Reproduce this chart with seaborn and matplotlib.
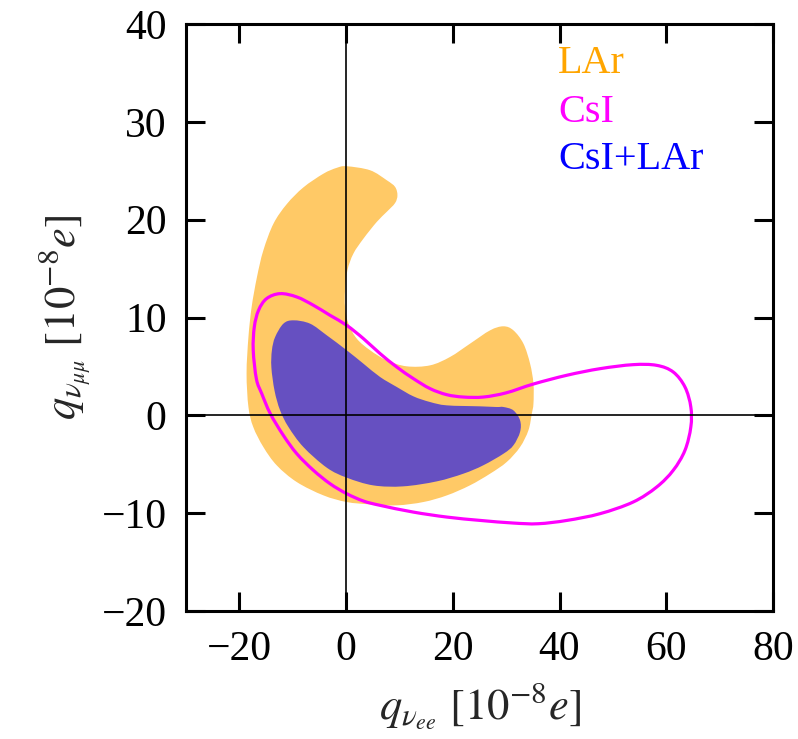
import numpy as np
import matplotlib
matplotlib.use("Agg")
import matplotlib.pyplot as plt
from matplotlib.path import Path
from matplotlib.patches import PathPatch
import seaborn as sns

# LAr allowed region (closed outline)
lar_x = [0.12, 4.50, 7.62, 9.18, 9.62, 9.18, 7.62, 5.75, 3.25, 1.37, 0.25, -0.19, -0.19, 0.44,
         2.0, 4.5, 7.62, 11.37, 15.74, 19.49, 23.24, 26.99, 29.48, 31.35, 33.23, 34.48, 35.11,
         35.11, 34.8, 34.17, 32.6, 30.1, 27.0, 23.2, 18.9, 14.5, 9.5, 4.5, 0.1, -4.25, -9.24,
         -13.0, -15.5, -17.4, -18.3, -18.65, -18.3, -17.7, -16.7, -15.5, -13.6, -11.1, -8.0,
         -4.25, -1.74]
lar_y = [25.46, 25.05, 24.03, 23.35, 22.5, 21.7, 20.8, 19.77, 18.06, 16.53, 14.83, 12.78,
         11.07, 9.37, 7.84, 6.65, 5.62, 5.01, 5.11, 5.97, 7.33, 8.69, 9.10, 8.69, 7.33, 5.28,
         3.24, 1.19, 0.17, -1.53, -3.24, -4.77, -5.96, -7.16, -8.18, -8.86, -9.20, -9.10,
         -8.86, -8.18, -6.82, -5.11, -3.24, -1.19, 0.85, 4.3, 8.0, 11.07, 14.14, 16.87, 19.6,
         21.6, 23.3, 24.7, 25.3]

# CsI allowed region boundary
csi_x = [-12.37, -9.24, -6.12, -3.0, 0.12, 3.25, 6.37, 9.49, 12.62, 15.74, 18.87, 21.99,
         25.73, 30.0, 35.1, 41.4, 47.6, 53.8, 58.2, 61.3, 63.5, 64.6, 64.6, 63.5, 61.3, 58.2,
         53.8, 47.6, 41.4, 36.0, 31.35, 25.1, 18.9, 12.6, 6.37, 3.25, 0.12, -3.0, -6.12, -9.24,
         -11.75, -14.2, -15.8, -16.8, -17.4, -17.2, -16.4, -14.9]
csi_y = [12.44, 12.10, 11.25, 10.22, 9.20, 7.84, 6.31, 4.94, 3.75, 2.73, 2.11, 1.87, 1.87,
         2.3, 3.2, 4.1, 4.77, 5.18, 5.11, 4.43, 2.90, 0.85, -1.19, -3.58, -5.62, -7.33,
         -8.86, -10.05, -10.74, -11.08, -11.01, -10.74, -10.40, -9.89, -9.20, -8.76, -8.01,
         -6.99, -5.62, -3.92, -2.05, 0.17, 2.21, 3.7, 6.65, 9.03, 10.74, 11.93]

# Combined CsI+LAr allowed region
comb_x = [-9.87, -6.75, -3.62, 0.12, 3.25, 6.37, 9.49, 12.62, 15.74, 18.87, 25.1, 28.2, 29.5,
          31.35, 32.6, 32.6, 31.35, 29.5, 25.7, 22.0, 17.0, 10.7, 5.1, 0.12, -3.62, -8.0,
          -10.8, -12.37, -13.4, -14.0, -13.9, -13.3, -11.75]
comb_y = [9.71, 9.37, 8.18, 6.65, 5.28, 3.92, 2.90, 1.94, 1.36, 1.02, 0.92, 0.85, 0.85, 0.51,
          -0.51, -1.70, -3.07, -3.92, -5.11, -5.96, -6.75, -7.26, -7.16, -6.37, -5.35, -3.24,
          -1.19, 0.51, 2.5, 4.9, 6.65, 8.0, 9.37]

x_ticks = [-20, 0, 20, 40, 60, 80]
y_ticks = [-20, -10, 0, 10, 20, 30, 40]

labels = ["LAr", "CsI", "CsI+LAr"]
label_colors = ["#FFA500", "#FF00FF", "#0000FF"]


def closed_curve(xs, ys):
    """Closed smooth Bezier path passing through every given vertex."""
    p = np.column_stack([xs, ys]).astype(float)
    n = len(p)
    verts = [p[0]]
    codes = [Path.MOVETO]
    for i in range(n):
        p0, p1, p2, p3 = p[i - 1], p[i], p[(i + 1) % n], p[(i + 2) % n]
        verts += [p1 + (p2 - p0) / 6.0, p2 - (p3 - p1) / 6.0, p2]
        codes += [Path.CURVE4] * 3
    return Path(verts, codes)


sns.set_theme(style="ticks")
plt.rcParams["font.family"] = ["Liberation Serif", "DejaVu Serif"]
plt.rcParams["mathtext.fontset"] = "stix"
plt.rcParams["axes.linewidth"] = 2.2

fig = plt.figure(figsize=(7.98, 7.39), dpi=100)
ax = fig.add_axes([186 / 798, 1 - 611 / 739, 587 / 798, 587 / 739])

ax.add_patch(PathPatch(closed_curve(lar_x, lar_y), facecolor="#FFA500", alpha=0.6,
                       lw=0, zorder=1))
ax.add_patch(PathPatch(closed_curve(comb_x, comb_y), facecolor="#0000FF", alpha=0.6,
                       lw=0, zorder=2))
ax.add_patch(PathPatch(closed_curve(csi_x, csi_y), facecolor="none", edgecolor="#FF00FF",
                       lw=2.3, zorder=3))

ax.axhline(0, color="black", lw=1.2, zorder=4)
ax.axvline(0, color="black", lw=1.2, zorder=4)

ax.set_xlim(-30, 80)
ax.set_ylim(-20, 40)
ax.set_xticks(x_ticks)
ax.set_yticks(y_ticks)
ax.tick_params(direction="in", length=14, width=2.2, labelsize=30, pad=14,
               top=True, right=True, color="black", labelcolor="black")
for sp in ax.spines.values():
    sp.set_color("black")
    sp.set_linewidth(2.2)

ax.set_xlabel(r"$q_{\nu_{ee}}\ [10^{-8}e]$", fontsize=32, labelpad=8)
ax.set_ylabel(r"$q_{\nu_{\mu\mu}}\ [10^{-8}e]$", fontsize=32, labelpad=6)

for txt, col, yb in zip(labels, label_colors, [35.0, 30.0, 25.2]):
    ax.text(39.7, yb, txt, color=col, fontsize=29, ha="left", va="baseline", zorder=5)

fig.savefig("out.png", dpi=100)
